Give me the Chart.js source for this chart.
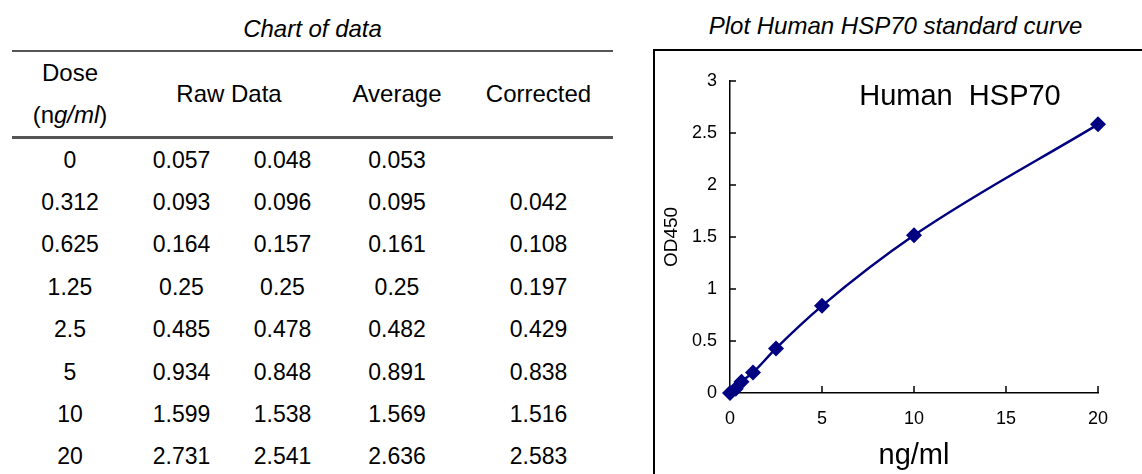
<!DOCTYPE html>
<html>
<head>
<meta charset="utf-8">
<script src="https://cdn.jsdelivr.net/npm/chart.js@4"></script>
<style>
  body { margin: 0; background: #fff; font-family: "Liberation Sans", Arial, sans-serif; color: #000; }
  #page { position: relative; width: 1142px; height: 474px; overflow: hidden; }
  #tableTitle { position: absolute; left: 12px; top: 15px; width: 601px; text-align: center; font-style: italic; font-size: 24px; }
  table { position: absolute; left: 12px; top: 50px; width: 601px; border-collapse: collapse; font-size: 23px; table-layout: fixed; }
  thead tr { border-top: 2px solid #555; border-bottom: 3px solid #555; }
  th { font-weight: normal; font-size: 24px; height: 84px; padding: 0; line-height: 42px; }
  td { height: 42.4px; padding: 0; text-align: center; }
  #plotTitle { position: absolute; left: 653px; top: 12px; width: 485px; text-align: center; font-style: italic; font-size: 24px; }
  #frame { position: absolute; left: 653px; top: 49px; width: 500px; height: 440px; border: 2px solid #000; box-sizing: border-box; }
  #chartBox { position: absolute; left: 655px; top: 51px; width: 487px; height: 423px; }
</style>
</head>
<body>
<div id="page">
  <div id="tableTitle">Chart of data</div>
  <table id="dataTable">
    <colgroup><col style="width:116px"><col style="width:107px"><col style="width:95px"><col style="width:134px"><col style="width:149px"></colgroup>
    <thead>
      <tr><th>Dose<br>(n<i>g/ml</i>)</th><th colspan="2">Raw Data</th><th>Average</th><th>Corrected</th></tr>
    </thead>
    <tbody id="tbody"></tbody>
  </table>
  <div id="plotTitle">Plot Human HSP70 standard curve</div>
  <div id="frame"></div>
  <div id="chartBox"><canvas id="chart"></canvas></div>
</div>
<script>
const doses = [0, 0.312, 0.625, 1.25, 2.5, 5, 10, 20];
const rawA = [0.057, 0.093, 0.164, 0.25, 0.485, 0.934, 1.599, 2.731];
const rawB = [0.048, 0.096, 0.157, 0.25, 0.478, 0.848, 1.538, 2.541];
const average = [0.053, 0.095, 0.161, 0.25, 0.482, 0.891, 1.569, 2.636];
const corrected = [null, 0.042, 0.108, 0.197, 0.429, 0.838, 1.516, 2.583];
// the plot starts the curve at the origin
const curveOD = [0, 0.042, 0.108, 0.197, 0.429, 0.838, 1.516, 2.583];
const xTicks = [0, 5, 10, 15, 20];
const yTicks = [0, 0.5, 1, 1.5, 2, 2.5, 3];

const tbody = document.getElementById('tbody');
doses.forEach((d, i) => {
  const tr = document.createElement('tr');
  const cells = [d, rawA[i], rawB[i], average[i], corrected[i]];
  tr.innerHTML = cells.map(v => `<td>${v === null ? '' : v}</td>`).join('');
  tbody.appendChild(tr);
});

const NAVY = '#000080';
const FONT = '"Liberation Sans", Arial, sans-serif';

// ticks point inward, like the original plot
const innerTicks = {
  id: 'innerTicks',
  afterDraw(chart) {
    const c = chart.ctx, xs = chart.scales.x, ys = chart.scales.y;
    const x0 = xs.getPixelForValue(0), y0 = ys.getPixelForValue(0);
    c.save();
    c.strokeStyle = '#000';
    c.lineWidth = 1.5;
    c.beginPath();
    yTicks.slice(1).forEach(v => { const y = ys.getPixelForValue(v); c.moveTo(x0, y); c.lineTo(x0 + 6, y); });
    xTicks.slice(1).forEach(v => { const x = xs.getPixelForValue(v); c.moveTo(x, y0); c.lineTo(x, y0 - 7); });
    c.stroke();
    // caption inside the plot
    c.fillStyle = '#000';
    c.font = '29px ' + FONT;
    c.textAlign = 'center';
    c.textBaseline = 'middle';
    c.fillText('Human  HSP70', xs.getPixelForValue(12.5), ys.getPixelForValue(2.85));
    c.restore();
  }
};

new Chart(document.getElementById('chart'), {
  type: 'scatter',
  data: {
    datasets: [{
      label: 'Human HSP70',
      data: doses.map((d, i) => ({ x: d, y: curveOD[i] })),
      showLine: true,
      borderColor: NAVY,
      borderWidth: 2.5,
      backgroundColor: NAVY,
      pointStyle: 'rectRot',
      pointRadius: 8,
      pointBorderWidth: 0,
      cubicInterpolationMode: 'monotone',
      clip: false
    }]
  },
  options: {
    animation: false,
    responsive: true,
    maintainAspectRatio: false,
    layout: { padding: { top: 30, right: 44, left: 0, bottom: 0 } },
    plugins: { legend: { display: false }, tooltip: { enabled: false } },
    scales: {
      x: {
        type: 'linear', min: 0, max: 20,
        afterBuildTicks: s => { s.ticks = xTicks.map(v => ({ value: v })); },
        afterFit: s => { s.height = 81; },
        grid: { display: false, drawTicks: false },
        border: { color: '#000', width: 1.5 },
        ticks: { padding: 15, color: '#000', font: { family: FONT, size: 18 }, callback: v => String(v) },
        title: { display: true, text: 'ng/ml', color: '#000', font: { family: FONT, size: 29 }, padding: { top: 0, bottom: 1 } }
      },
      y: {
        type: 'linear', min: 0, max: 3,
        afterBuildTicks: s => { s.ticks = yTicks.map(v => ({ value: v })); },
        afterFit: s => { s.width = 75; },
        grid: { display: false, drawTicks: false },
        border: { color: '#000', width: 1.5 },
        ticks: { padding: 13, color: '#000', font: { family: FONT, size: 18 }, callback: v => String(v) },
        title: { display: true, text: 'OD450', color: '#000', font: { family: FONT, size: 19 }, padding: { top: 5, bottom: 0 } }
      }
    }
  },
  plugins: [innerTicks]
});
</script>
</body>
</html>
